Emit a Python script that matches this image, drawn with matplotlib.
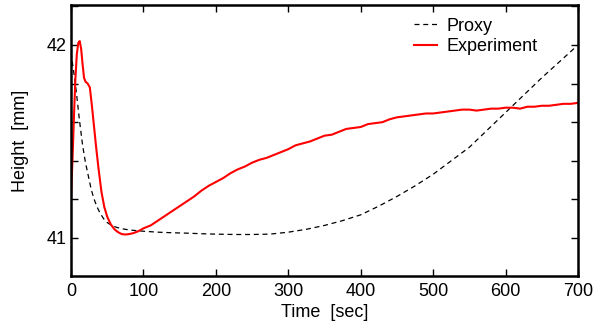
import matplotlib
matplotlib.use("Agg")
import matplotlib.pyplot as plt
from matplotlib.ticker import MultipleLocator

plt.rcParams['font.family'] = ['Liberation Sans', 'DejaVu Sans']

# Proxy (dashed)
t_proxy = [0, 3, 6, 9, 12, 16, 20, 24, 28, 32, 36, 40, 45, 50, 56, 63, 70, 80, 90, 100,
           120, 140, 160, 180, 200, 225, 250, 275, 300, 325, 350, 375, 400, 425, 450,
           475, 500, 525, 550, 575, 600, 625, 650, 675, 700]
h_proxy = [41.96, 41.88, 41.80, 41.70, 41.60, 41.48, 41.39, 41.32, 41.25, 41.20, 41.16, 41.13,
           41.10, 41.08, 41.065, 41.055, 41.048, 41.042, 41.038, 41.035,
           41.03, 41.027, 41.025, 41.022, 41.02, 41.018, 41.018, 41.02, 41.03, 41.045,
           41.065, 41.09, 41.12, 41.165, 41.215, 41.27, 41.33, 41.40, 41.47, 41.56,
           41.65, 41.74, 41.83, 41.915, 42.0]

# Experiment (red)
t_exp = [0, 2, 4, 6, 8, 10, 12, 14, 16, 18, 20, 23, 26, 29, 32, 35, 38, 42, 46, 50, 55, 60,
         65, 70, 75, 80, 86, 93, 100, 110, 120, 130, 140, 150, 160, 170, 180, 190, 200,
         210, 220, 230, 240, 250, 260, 270, 280, 290, 300, 310, 320, 330, 340, 350, 360,
         370, 380, 390, 400, 410, 420, 430, 440, 450, 460, 470, 480, 490, 500, 510, 520,
         530, 540, 550, 560, 570, 580, 590, 600, 610, 620, 630, 640, 650, 660, 670, 680,
         690, 700]
h_exp = [41.21, 41.40, 41.62, 41.82, 41.95, 42.01, 42.02, 41.98, 41.90, 41.83, 41.81, 41.80,
         41.78, 41.68, 41.57, 41.46, 41.36, 41.24, 41.16, 41.11, 41.07, 41.045, 41.03, 41.02,
         41.018, 41.02, 41.025, 41.035, 41.05, 41.065, 41.09, 41.115, 41.14, 41.165, 41.19,
         41.215, 41.245, 41.27, 41.29, 41.31, 41.335, 41.355, 41.37, 41.39, 41.405, 41.415,
         41.43, 41.445, 41.46, 41.48, 41.49, 41.50, 41.515, 41.53, 41.535, 41.55, 41.565,
         41.57, 41.575, 41.59, 41.595, 41.60, 41.615, 41.625, 41.63, 41.635, 41.64, 41.645,
         41.645, 41.65, 41.655, 41.66, 41.665, 41.665, 41.66, 41.665, 41.67, 41.67, 41.675,
         41.675, 41.67, 41.68, 41.68, 41.685, 41.685, 41.69, 41.695, 41.695, 41.70]

fig = plt.figure(figsize=(6.02, 3.25), dpi=100)
ax = fig.add_axes([71/602, 1 - 276/325, (578-71)/602, (276-5)/325])

ax.plot(t_proxy, h_proxy, color='black', linestyle=(0, (4, 3)), linewidth=0.9, label='Proxy')
ax.plot(t_exp, h_exp, color='red', linewidth=1.5, label='Experiment')

ax.set_xlim(0, 700)
ax.set_ylim(40.803, 42.207)
ax.xaxis.set_major_locator(MultipleLocator(100))
ax.yaxis.set_major_locator(MultipleLocator(1))
ax.yaxis.set_minor_locator(MultipleLocator(0.2))
ax.tick_params(which='both', direction='in', top=True, right=True, labelsize=13, width=1)
ax.tick_params(which='major', length=5)
ax.tick_params(which='minor', length=5)
ax.tick_params(axis='y', which='major', pad=3)
ax.tick_params(axis='x', which='major', pad=5)
for s in ax.spines.values():
    s.set_linewidth(1.8)

ax.set_xlabel('Time  [sec]', fontsize=13, labelpad=3)
ax.set_ylabel('Height  [mm]', fontsize=13, labelpad=13)

ax.legend(loc='upper right', frameon=False, fontsize=13, handlelength=1.3,
          bbox_to_anchor=(0.945, 1.0), borderaxespad=0.3, labelspacing=0.2, handletextpad=0.5)

fig.savefig('out.png', dpi=100)
